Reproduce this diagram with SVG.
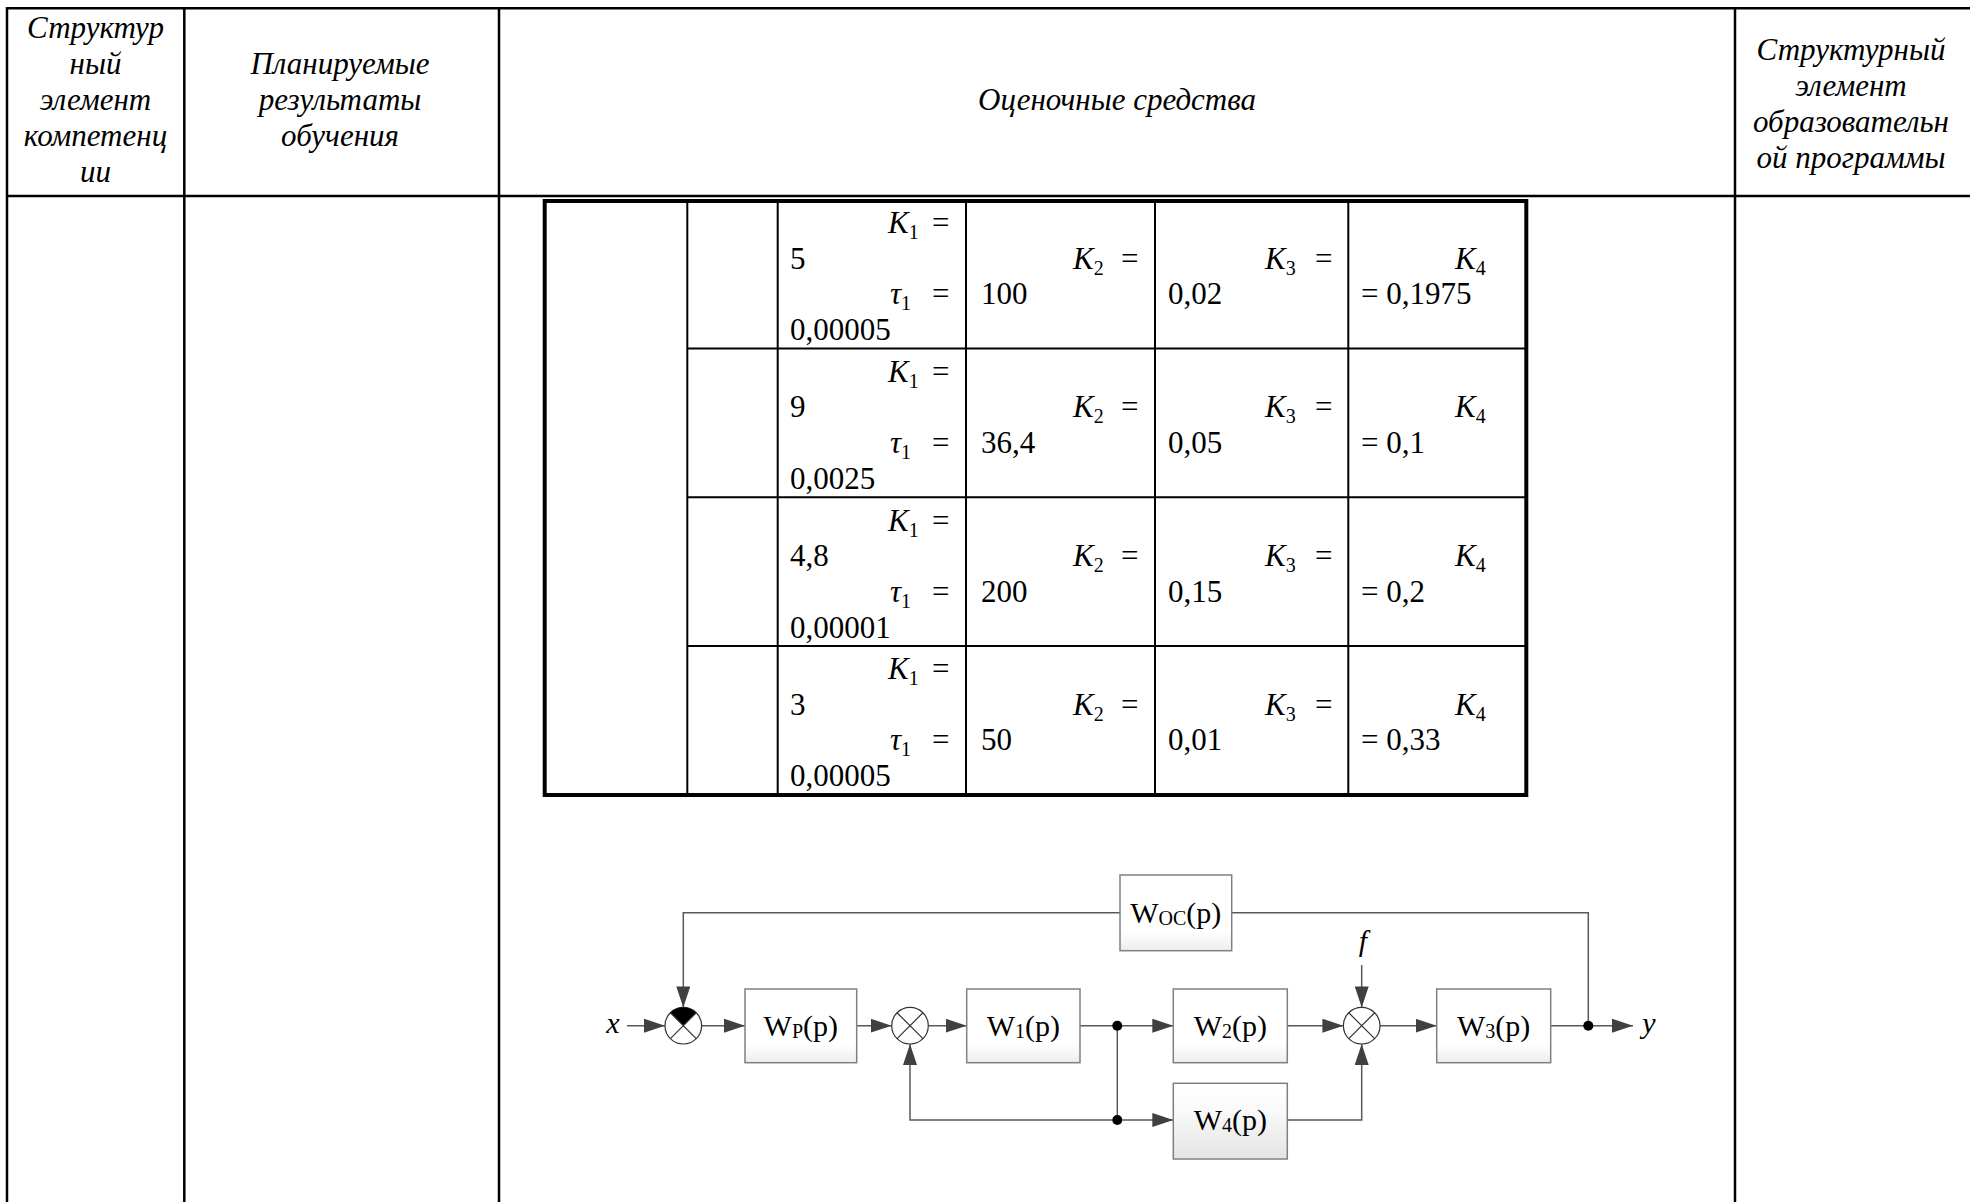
<svg xmlns="http://www.w3.org/2000/svg" width="1970" height="1202" viewBox="0 0 1970 1202">
<style>
.tx{font-family:"Liberation Serif","Times New Roman",serif;font-size:31px;fill:#000}
.it{font-style:italic}
.hd{font-family:"Liberation Serif","Times New Roman",serif;font-size:31px;font-style:italic;fill:#000;text-anchor:middle}
.sb{font-size:20px;font-style:normal}
.grid{stroke:#000;stroke-width:2.5;fill:none}
.ig{stroke:#000;stroke-width:2;fill:none}
.ib{stroke:#000;stroke-width:4;fill:none}
.box{stroke:#808080;stroke-width:1.5}
.lbl{font-family:"Liberation Serif","Times New Roman",serif;font-size:30px;fill:#000;text-anchor:middle}
.con{stroke:#595959;stroke-width:1.5;fill:none}
.sum{fill:#fff;stroke:#333;stroke-width:1.2}
.x{stroke:#333;stroke-width:1.2}
.dot{fill:#000}
</style>
<defs>
<marker id="arr" markerUnits="userSpaceOnUse" markerWidth="22" markerHeight="14" refX="21" refY="7" orient="auto"><path d="M0,0 L21,7 L0,14 Z" fill="#404040"/></marker>
<linearGradient id="gb" x1="0" y1="0" x2="0" y2="1"><stop offset="0" stop-color="#fff"/><stop offset="0.75" stop-color="#fff"/><stop offset="1" stop-color="#ededed"/></linearGradient>
<linearGradient id="gb4" x1="0" y1="0" x2="0" y2="1"><stop offset="0" stop-color="#fff"/><stop offset="0.35" stop-color="#fafafa"/><stop offset="1" stop-color="#e4e4e4"/></linearGradient>
</defs>
<rect width="1970" height="1202" fill="#fff"/>

<g id="outer-table">
<path class="grid" d="M5.8,8.3 H1970 M5.8,196 H1970 M7,7 V1202 M184.3,8.3 V1202 M499,8.3 V1202 M1735,8.3 V1202"/>
</g>

<g id="header">
<text class="hd"><tspan x="95.5" y="38">Структур</tspan><tspan x="95.5" y="74">ный</tspan><tspan x="95.5" y="110">элемент</tspan><tspan x="95.5" y="146">компетенц</tspan><tspan x="95.5" y="182">ии</tspan></text>
<text class="hd"><tspan x="340" y="74">Планируемые</tspan><tspan x="340" y="110">результаты</tspan><tspan x="340" y="146">обучения</tspan></text>
<text class="hd" x="1117" y="110">Оценочные средства</text>
<text class="hd"><tspan x="1851" y="60">Структурный</tspan><tspan x="1851" y="96">элемент</tspan><tspan x="1851" y="132">образовательн</tspan><tspan x="1851" y="168">ой программы</tspan></text>
</g>

<g id="inner-table">
<path class="ig" d="M687.3,201 V795 M777.7,201 V795 M966,201 V795 M1155,201 V795 M1348.3,201 V795 M687.3,348.5 H1526.3 M687.3,497.3 H1526.3 M687.3,646.1 H1526.3"/>
<rect class="ib" x="544.7" y="201" width="981.6" height="594"/>
</g>

<g id="row1" class="tx">
<text x="888" y="233"><tspan class="it">K</tspan><tspan class="sb" dy="6">1</tspan></text><text x="932" y="233">=</text>
<text x="790" y="268.5">5</text>
<text x="890" y="304"><tspan class="it">τ</tspan><tspan class="sb" dy="6">1</tspan></text><text x="932" y="304">=</text>
<text x="790" y="340">0,00005</text>
<text x="1073" y="268.5"><tspan class="it">K</tspan><tspan class="sb" dy="6">2</tspan></text><text x="1121" y="268.5">=</text>
<text x="981" y="304">100</text>
<text x="1265" y="268.5"><tspan class="it">K</tspan><tspan class="sb" dy="6">3</tspan></text><text x="1315" y="268.5">=</text>
<text x="1168" y="304">0,02</text>
<text x="1455" y="268.5"><tspan class="it">K</tspan><tspan class="sb" dy="6">4</tspan></text>
<text x="1361" y="304">= 0,1975</text>
</g>
<g id="row2" class="tx" transform="translate(0,148.8)">
<text x="888" y="233"><tspan class="it">K</tspan><tspan class="sb" dy="6">1</tspan></text><text x="932" y="233">=</text>
<text x="790" y="268.5">9</text>
<text x="890" y="304"><tspan class="it">τ</tspan><tspan class="sb" dy="6">1</tspan></text><text x="932" y="304">=</text>
<text x="790" y="340">0,0025</text>
<text x="1073" y="268.5"><tspan class="it">K</tspan><tspan class="sb" dy="6">2</tspan></text><text x="1121" y="268.5">=</text>
<text x="981" y="304">36,4</text>
<text x="1265" y="268.5"><tspan class="it">K</tspan><tspan class="sb" dy="6">3</tspan></text><text x="1315" y="268.5">=</text>
<text x="1168" y="304">0,05</text>
<text x="1455" y="268.5"><tspan class="it">K</tspan><tspan class="sb" dy="6">4</tspan></text>
<text x="1361" y="304">= 0,1</text>
</g>
<g id="row3" class="tx" transform="translate(0,297.6)">
<text x="888" y="233"><tspan class="it">K</tspan><tspan class="sb" dy="6">1</tspan></text><text x="932" y="233">=</text>
<text x="790" y="268.5">4,8</text>
<text x="890" y="304"><tspan class="it">τ</tspan><tspan class="sb" dy="6">1</tspan></text><text x="932" y="304">=</text>
<text x="790" y="340">0,00001</text>
<text x="1073" y="268.5"><tspan class="it">K</tspan><tspan class="sb" dy="6">2</tspan></text><text x="1121" y="268.5">=</text>
<text x="981" y="304">200</text>
<text x="1265" y="268.5"><tspan class="it">K</tspan><tspan class="sb" dy="6">3</tspan></text><text x="1315" y="268.5">=</text>
<text x="1168" y="304">0,15</text>
<text x="1455" y="268.5"><tspan class="it">K</tspan><tspan class="sb" dy="6">4</tspan></text>
<text x="1361" y="304">= 0,2</text>
</g>
<g id="row4" class="tx" transform="translate(0,446.4)">
<text x="888" y="233"><tspan class="it">K</tspan><tspan class="sb" dy="6">1</tspan></text><text x="932" y="233">=</text>
<text x="790" y="268.5">3</text>
<text x="890" y="304"><tspan class="it">τ</tspan><tspan class="sb" dy="6">1</tspan></text><text x="932" y="304">=</text>
<text x="790" y="340">0,00005</text>
<text x="1073" y="268.5"><tspan class="it">K</tspan><tspan class="sb" dy="6">2</tspan></text><text x="1121" y="268.5">=</text>
<text x="981" y="304">50</text>
<text x="1265" y="268.5"><tspan class="it">K</tspan><tspan class="sb" dy="6">3</tspan></text><text x="1315" y="268.5">=</text>
<text x="1168" y="304">0,01</text>
<text x="1455" y="268.5"><tspan class="it">K</tspan><tspan class="sb" dy="6">4</tspan></text>
<text x="1361" y="304">= 0,33</text>
</g>

<g id="connectors">
<path class="con" d="M627,1025.7 H665" marker-end="url(#arr)"/>
<path class="con" d="M701.6,1025.7 H745" marker-end="url(#arr)"/>
<path class="con" d="M856.7,1025.7 H891.7" marker-end="url(#arr)"/>
<path class="con" d="M928.3,1025.7 H966.7" marker-end="url(#arr)"/>
<path class="con" d="M1080,1025.7 H1173.3" marker-end="url(#arr)"/>
<path class="con" d="M1117.3,1025.7 V1120"/>
<path class="con" d="M1117.3,1120 H1173.3" marker-end="url(#arr)"/>
<path class="con" d="M1117.3,1120 H910 V1044" marker-end="url(#arr)"/>
<path class="con" d="M1287.3,1025.7 H1343.4" marker-end="url(#arr)"/>
<path class="con" d="M1361.7,965 V1007.4" marker-end="url(#arr)"/>
<path class="con" d="M1287.3,1120 H1361.7 V1044" marker-end="url(#arr)"/>
<path class="con" d="M1380,1025.7 H1436.7" marker-end="url(#arr)"/>
<path class="con" d="M1550.7,1025.7 H1633" marker-end="url(#arr)"/>
<path class="con" d="M1588.3,1025.7 V912.7 H1231.7"/>
<path class="con" d="M1120,912.7 H683.3 V1007.4" marker-end="url(#arr)"/>
<circle class="dot" cx="1117.3" cy="1025.7" r="5"/>
<circle class="dot" cx="1117.3" cy="1120" r="5"/>
<circle class="dot" cx="1588.3" cy="1025.7" r="5"/>
</g>

<g id="label-x"><text class="lbl it" x="613" y="1033">x</text></g>
<g id="label-y"><text class="lbl it" x="1649" y="1033">y</text></g>
<g id="label-f"><text class="lbl it" x="1363" y="951">f</text></g>

<g id="sum1">
<circle class="sum" cx="683.3" cy="1025.7" r="18.3"/>
<path d="M683.3,1025.7 L670.36,1012.76 A18.3,18.3 0 0 1 696.24,1012.76 Z" fill="#000"/>
<path class="x" d="M670.36,1012.76 L696.24,1038.64 M696.24,1012.76 L670.36,1038.64"/>
</g>
<g id="sum2">
<circle class="sum" cx="910" cy="1025.7" r="18.3"/>
<path class="x" d="M897.06,1012.76 L922.94,1038.64 M922.94,1012.76 L897.06,1038.64"/>
</g>
<g id="sum3">
<circle class="sum" cx="1361.7" cy="1025.7" r="18.3"/>
<path class="x" d="M1348.76,1012.76 L1374.64,1038.64 M1374.64,1012.76 L1348.76,1038.64"/>
</g>

<g id="WOC">
<rect class="box" x="1120" y="875" width="111.7" height="75.7" fill="url(#gb)"/>
<text class="lbl" x="1175.8" y="923">W<tspan class="sb" dy="2">OC</tspan><tspan dy="-2">(p)</tspan></text>
</g>
<g id="WP">
<rect class="box" x="745" y="989" width="111.7" height="73.7" fill="url(#gb)"/>
<text class="lbl" x="800.8" y="1036">W<tspan class="sb" dy="2">P</tspan><tspan dy="-2">(p)</tspan></text>
</g>
<g id="W1">
<rect class="box" x="966.7" y="989" width="113.3" height="73.7" fill="url(#gb)"/>
<text class="lbl" x="1023.3" y="1036">W<tspan class="sb" dy="2">1</tspan><tspan dy="-2">(p)</tspan></text>
</g>
<g id="W2">
<rect class="box" x="1173.3" y="989" width="114" height="73.7" fill="url(#gb)"/>
<text class="lbl" x="1230.3" y="1036">W<tspan class="sb" dy="2">2</tspan><tspan dy="-2">(p)</tspan></text>
</g>
<g id="W4">
<rect class="box" x="1173.3" y="1083.3" width="114" height="75.7" fill="url(#gb4)"/>
<text class="lbl" x="1230.3" y="1130">W<tspan class="sb" dy="2">4</tspan><tspan dy="-2">(p)</tspan></text>
</g>
<g id="W3">
<rect class="box" x="1436.7" y="989" width="114" height="73.7" fill="url(#gb)"/>
<text class="lbl" x="1493.7" y="1036">W<tspan class="sb" dy="2">3</tspan><tspan dy="-2">(p)</tspan></text>
</g>
</svg>
